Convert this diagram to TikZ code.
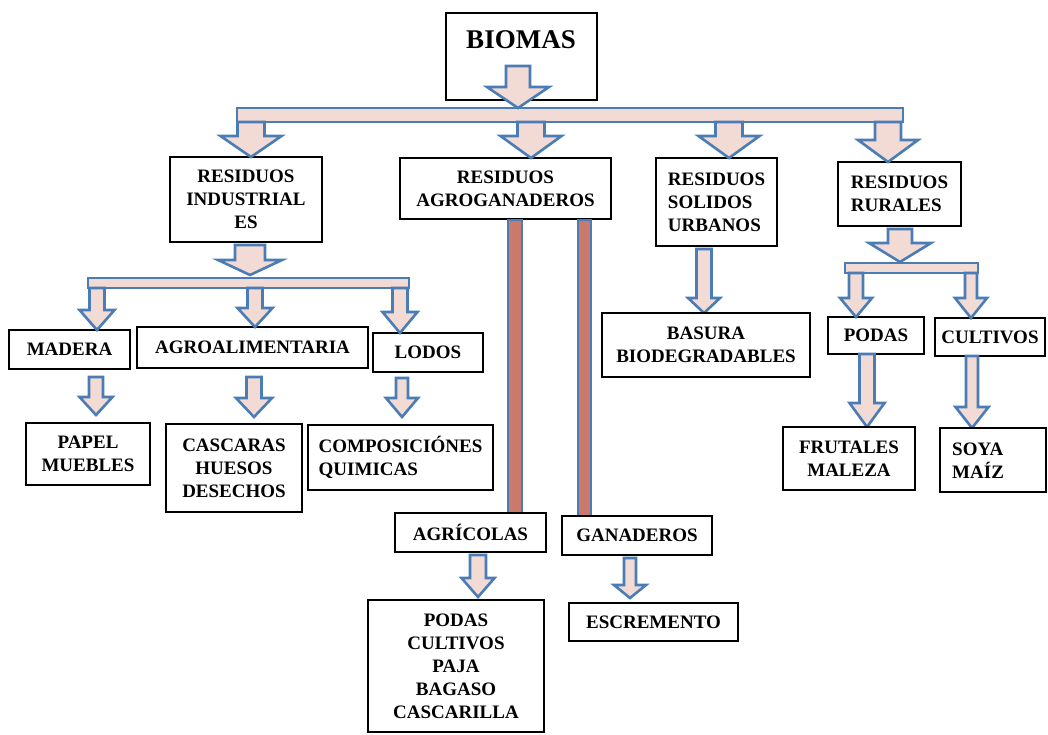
\documentclass[tikz,border=0pt]{standalone}
\usepackage{fontspec}
\setmainfont{Liberation Serif}

\definecolor{arrowblue}{HTML}{4A7CB5}
\definecolor{arrowpink}{HTML}{F2DAD5}
\definecolor{stemred}{HTML}{C97A6C}

\tikzset{
  box/.style={draw=black, line width=1.3pt, fill=white, inner sep=0pt,
    align=center, font=\bfseries\fontsize{19}{23}\selectfont},
  lbox/.style={box, align=left},
  boxtext/.style={inner sep=0pt, align=center, font=\bfseries\fontsize{19}{23}\selectfont},
  blk/.style={draw=arrowblue, line width=2.6pt, fill=arrowpink, line join=miter},
  hbar/.style={draw=arrowblue, line width=2.6pt, fill=arrowpink},
  stem/.style={draw=arrowblue, line width=2.6pt, fill=stemred},
}

% framed box from corner (x1,y1) to corner (x2,y2): [style] {name} {x1} {y1} {x2} {y2} {text}
\newcommand\boxnode[7][box]{%
  \node[#1, minimum width={#5-#3}, minimum height={#6-#4}]
    (#2) at ({(#3+#5)/2},{(#4+#6)/2}) {#7};}

% block arrow pointing down: centre x, shaft top, head start, tip, half shaft, half head
\newcommand\blkarrow[6]{%
  \draw[blk] (#1-#5,#2) -- (#1+#5,#2) -- (#1+#5,#3) -- (#1+#6,#3) -- (#1,#4)
    -- (#1-#6,#3) -- (#1-#5,#3) -- cycle;}

\begin{document}
\begin{tikzpicture}[x=1pt, y=-1pt]
\useasboundingbox (0,0) rectangle (1048,734);

% ---- top ----
\boxnode{biomas}{446}{13}{597}{100}{}
\node[boxtext, font=\bfseries\fontsize{27}{30}\selectfont] (biomastxt) at (521,40) {BIOMAS};
\draw[hbar] (237,108) rectangle (903,122);
\blkarrow{518}{66}{87}{108}{12}{31}

% ---- first level ----
\boxnode{ind}{170}{157}{322}{242}{RESIDUOS\\INDUSTRIAL\\ES}
\boxnode{agro}{400}{158}{611}{219}{RESIDUOS\\AGROGANADEROS}
\boxnode[lbox]{sol}{656}{158}{777}{246}{RESIDUOS\\SOLIDOS\\URBANOS}
\boxnode[lbox]{rur}{838}{162}{961}{226}{RESIDUOS\\RURALES}
\blkarrow{251}{122}{136}{157}{13.5}{30.5}
\blkarrow{531}{122}{136}{158}{13.5}{30.5}
\blkarrow{729}{122}{136}{158}{13.5}{30.5}
\blkarrow{888}{122}{140}{162}{13}{30}

% ---- residuos industriales ----
\blkarrow{250}{245}{260}{275}{15}{32}
\draw[hbar] (88,278) rectangle (409,288);
\boxnode{madera}{9}{330}{130}{369}{MADERA}
\boxnode{alim}{137}{327}{368}{368}{AGROALIMENTARIA}
\boxnode{lodos}{373}{333}{483}{372}{LODOS}
\blkarrow{97}{288}{310}{330}{7.5}{17.5}
\blkarrow{255}{288}{308}{327}{7.5}{17.5}
\blkarrow{400}{288}{312}{333}{7.5}{17.5}
\boxnode{papel}{26}{423}{150}{485}{PAPEL\\MUEBLES}
\boxnode{cascaras}{166}{424}{302}{512}{CASCARAS\\HUESOS\\DESECHOS}
\boxnode[lbox]{compos}{308}{425}{493}{490}{COMPOSICIÓNES\\QUIMICAS}
\blkarrow{96}{377}{397}{415}{7}{16.5}
\blkarrow{254}{377}{398}{417}{7.5}{18}
\blkarrow{402}{378}{398}{417}{6}{16}

% ---- residuos agroganaderos ----
\draw[stem] (508,220) rectangle (522,513);
\draw[stem] (578,220) rectangle (591,516);
\boxnode{agri}{395}{513}{546}{552}{AGRÍCOLAS}
\boxnode{gana}{562}{516}{712}{555}{GANADEROS}
\blkarrow{478}{555}{578}{597}{8}{16.5}
\blkarrow{630}{558}{585}{598}{6}{16}
\boxnode{agrilist}{368}{600}{544}{732}{PODAS\\CULTIVOS\\PAJA\\BAGASO\\CASCARILLA}
\boxnode{escr}{569}{603}{738}{641}{ESCREMENTO}

% ---- residuos solidos urbanos ----
\blkarrow{704}{249}{298}{313}{7.5}{16}
\boxnode{basura}{602}{313}{810}{377}{BASURA\\BIODEGRADABLES}

% ---- residuos rurales ----
\blkarrow{900}{229}{243}{262}{12}{31}
\draw[hbar] (845,263) rectangle (978,273);
\boxnode{podas}{828}{317}{924}{354}{PODAS}
\boxnode{cult}{935}{318}{1045}{356}{CULTIVOS}
\blkarrow{856}{273}{298}{317}{7}{16}
\blkarrow{971}{273}{298}{318}{6}{16}
\blkarrow{867}{354}{403}{427}{7.5}{17.5}
\blkarrow{972}{356}{407}{428}{6}{16.5}
\boxnode{frut}{783}{427}{915}{490}{FRUTALES\\MALEZA}
\boxnode{soya}{940}{428}{1046}{492}{}
\node[boxtext, align=left, anchor=west] (soyatxt) at (952,461) {SOYA\\MAÍZ};
\end{tikzpicture}
\end{document}
